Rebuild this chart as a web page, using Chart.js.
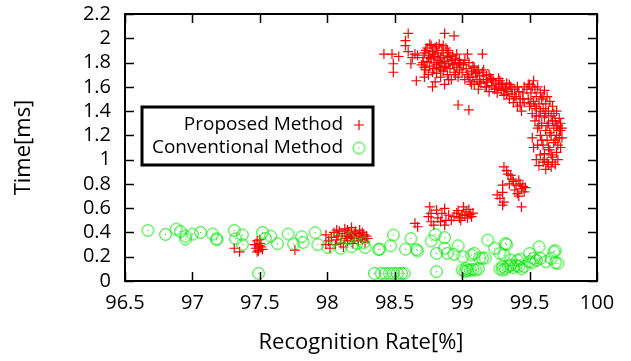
<!DOCTYPE html>
<html><head><meta charset="utf-8">
<script src="https://cdn.jsdelivr.net/npm/chart.js@4"></script>
<style>html,body{margin:0;padding:0;background:#fff}#wrap{width:631px;height:361px;position:relative}</style>
</head><body><div id="wrap"><canvas id="c" width="631" height="361"></canvas></div>
<script>
const xTicks=[96.5,97,97.5,98,98.5,99,99.5,100];
const xTickLabels=['96.5','97','97.5','98','98.5','99','99.5','100'];
const yTicks=[0,0.2,0.4,0.6,0.8,1,1.2,1.4,1.6,1.8,2,2.2];
const yTickLabels=['0','0.2','0.4','0.6','0.8','1','1.2','1.4','1.6','1.8','2','2.2'];
const seriesNames=['Proposed Method','Conventional Method'];
const xTitle='Recognition Rate[%]';
const yTitle='Time[ms]';

const proposed=[
[97.31,0.27],[97.35,0.24],[97.46,0.30],[97.47,0.27],[97.48,0.33],[97.49,0.25],[97.50,0.29],[97.50,0.31],[97.51,0.28],[97.52,0.26],[97.48,0.24],[97.50,0.34],[97.76,0.255],
[97.99,0.38],[97.99,0.30],[98.01,0.33],[98.03,0.36],[98.05,0.40],[98.07,0.42],[98.07,0.34],[98.08,0.37],[98.10,0.31],[98.11,0.39],[98.13,0.43],[98.13,0.35],[98.14,0.37],[98.15,0.33],[98.16,0.40],[98.17,0.36],[98.18,0.38],[98.19,0.31],[98.20,0.35],[98.21,0.41],[98.22,0.37],[98.23,0.33],[98.24,0.39],[98.25,0.36],[98.26,0.34],[98.27,0.38],[98.28,0.32],[98.12,0.28],[98.06,0.30],[98.18,0.44],[98.02,0.27],
[98.09,0.41],[98.15,0.42],[98.20,0.39],[98.24,0.42],[98.26,0.40],[98.29,0.37],[98.30,0.35],
[98.65,0.475],[98.67,0.447],[98.75,0.53],[98.76,0.61],[98.77,0.557],[98.77,0.488],[98.79,0.46],[98.81,0.584],[98.82,0.52],[98.85,0.557],[98.87,0.598],[98.87,0.46],[98.88,0.50],[98.90,0.543],[98.92,0.50],[98.94,0.53],[98.96,0.56],[98.97,0.58],[98.98,0.52],[99.00,0.55],[99.01,0.61],[99.02,0.54],[99.03,0.57],[99.04,0.52],[99.05,0.59],[99.06,0.55],[99.07,0.53],[99.08,0.56],[98.99,0.50],[98.84,0.49],
[99.26,0.71],[99.28,0.68],[99.30,0.79],[99.30,0.73],[99.31,0.65],[99.30,0.625],[99.33,0.91],[99.34,0.88],[99.36,0.87],[99.37,0.84],[99.38,0.82],[99.40,0.79],[99.41,0.72],[99.42,0.83],[99.43,0.80],[99.44,0.76],[99.44,0.61],[99.45,0.78],[99.46,0.735],[99.47,0.77],[99.39,0.75],[99.42,0.70],[99.35,0.80],
[98.42,1.87],[98.48,1.87],[98.53,1.85],[98.49,1.79],[98.49,1.72],[98.58,1.98],[98.60,2.04],[98.58,1.94],[98.60,1.89],[98.62,1.79],[98.66,1.65],[98.65,1.87],[98.67,1.86],[98.87,2.04],[98.94,2.02],[98.63,1.84],
[98.70,1.78],[98.71,1.84],[98.72,1.88],[98.73,1.74],[98.74,1.92],[98.74,1.81],[98.75,1.70],[98.76,1.86],[98.76,1.77],[98.77,1.94],[98.77,1.83],[98.78,1.60],[98.78,1.89],[98.79,1.75],[98.79,1.80],[98.80,1.92],[98.80,1.85],[98.81,1.71],[98.81,1.78],[98.82,1.88],[98.82,1.82],[98.83,1.95],[98.83,1.76],[98.84,1.84],[98.84,1.68],[98.85,1.90],[98.85,1.79],[98.86,1.73],[98.86,1.86],[98.87,1.81],[98.88,1.77],[98.88,1.92],[98.89,1.84],[98.89,1.70],[98.90,1.79],[98.90,1.88],[98.91,1.75],[98.92,1.82],[98.92,1.66],[98.93,1.86],[98.94,1.78],[98.94,1.72],[98.95,1.83],[98.96,1.76],[98.97,1.80],[98.97,1.68],[98.98,1.74],[98.99,1.79],[98.97,1.45],[98.80,1.64],[98.87,1.62],
[98.71,1.80],[98.72,1.76],[98.73,1.90],[98.75,1.84],[98.76,1.95],[98.78,1.72],[98.79,1.87],[98.81,1.93],[98.83,1.80],[98.84,1.74],[98.86,1.94],[98.87,1.76],[98.89,1.90],[98.91,1.85],[98.93,1.79],[98.95,1.70],[98.96,1.87],[98.98,1.82],[98.72,1.68],[98.90,1.66],
[99.00,1.72],[99.01,1.78],[99.02,1.66],[99.03,1.75],[99.04,1.87],[99.04,1.70],[99.05,1.41],[99.05,1.80],[99.06,1.64],[99.07,1.73],[99.08,1.68],[99.08,1.77],[99.09,1.62],[99.10,1.71],[99.11,1.66],[99.12,1.74],[99.12,1.58],[99.13,1.69],[99.14,1.63],[99.15,1.87],[99.15,1.72],[99.16,1.66],[99.17,1.60],[99.18,1.69],[99.19,1.64],[99.20,1.56],[99.21,1.67],[99.22,1.61],[99.23,1.65],[99.24,1.58],[99.25,1.63],[99.26,1.55],[99.27,1.60],[99.28,1.65],[99.29,1.57],[99.30,1.62],[99.31,1.53],[99.32,1.59],[99.33,1.63],[99.34,1.56],[99.35,1.50],[99.36,1.60],[99.37,1.54],[99.38,1.47],[99.39,1.58],[99.40,1.52],[99.41,1.44],[99.42,1.56],[99.43,1.50],[99.44,1.40],[99.45,1.55],[99.46,1.47],
[99.02,1.82],[99.05,1.68],[99.07,1.62],[99.09,1.76],[99.11,1.72],[99.13,1.64],[99.16,1.74],[99.18,1.60],[99.20,1.70],[99.22,1.66],[99.25,1.59],[99.27,1.67],[99.29,1.62],[99.31,1.58],[99.33,1.54],[99.35,1.62],[99.37,1.58],[99.39,1.52],[99.41,1.60],[99.43,1.45],[99.45,1.50],[99.46,1.60],
[99.48,1.58],[99.49,1.50],[99.50,1.62],[99.50,1.44],[99.51,1.55],[99.52,1.38],[99.53,1.65],[99.53,1.48],[99.54,1.58],[99.54,1.32],[99.55,1.52],[99.55,1.42],[99.56,1.60],[99.56,1.26],[99.57,1.46],[99.57,1.36],[99.58,1.55],[99.58,1.20],[99.59,1.50],[99.59,1.30],[99.60,1.42],[99.60,1.12],[99.61,1.57],[99.61,1.35],[99.61,1.05],[99.62,1.46],[99.62,1.24],[99.63,1.52],[99.63,1.16],[99.63,0.98],[99.64,1.40],[99.64,1.30],[99.65,1.08],[99.65,1.48],[99.66,1.20],[99.66,1.36],[99.67,1.02],[99.67,1.44],[99.68,1.26],[99.68,1.14],[99.69,1.32],[99.69,0.96],[99.70,1.40],[99.70,1.20],[99.70,1.06],[99.71,1.28],[99.71,1.12],[99.72,1.34],[99.72,1.18],[99.73,1.24],[99.73,1.10],[99.62,0.92],[99.66,0.94],[99.55,1.00],[99.58,1.04],[99.53,1.10],[99.52,1.18],[99.56,1.12],[99.60,0.98],[99.57,0.95],[99.31,0.94],
[99.49,1.62],[99.51,1.46],[99.52,1.60],[99.54,1.44],[99.55,1.36],[99.57,1.28],[99.58,1.40],[99.59,1.16],[99.60,1.52],[99.62,1.38],[99.63,1.28],[99.64,1.10],[99.65,1.22],[99.66,1.04],[99.67,1.32],[99.68,1.38],[99.69,1.16],[99.70,1.28],[99.71,1.00],[99.72,1.24],[99.73,1.30],[99.74,1.18],[99.74,1.26],[99.64,0.96],[99.61,1.00],[99.67,0.98]
];

const conventional=[
[96.67,0.417],[96.80,0.384],[96.88,0.428],[96.91,0.409],[96.95,0.37],[96.95,0.346],[97.00,0.387],[97.06,0.40],[97.15,0.387],[97.18,0.348],[97.18,0.34],[97.31,0.417],[97.32,0.348],[97.37,0.38],[97.37,0.30],[97.49,0.063],[97.52,0.40],[97.54,0.35],[97.58,0.37],[97.63,0.307],[97.71,0.387],[97.75,0.305],[97.81,0.365],[97.82,0.318],[97.91,0.398],[97.93,0.30],
[98.005,0.277],[98.06,0.343],[98.10,0.27],[98.16,0.35],[98.18,0.282],[98.22,0.31],[98.27,0.315],[98.28,0.277],[98.35,0.063],[98.38,0.26],[98.39,0.263],[98.47,0.29],[98.49,0.379],[98.40,0.063],[98.43,0.063],[98.46,0.063],[98.49,0.063],[98.52,0.063],[98.55,0.063],[98.57,0.063],[98.58,0.263],[98.62,0.35],[98.67,0.247],[98.66,0.26],[98.77,0.33],[98.80,0.384],[98.81,0.228],[98.81,0.077],[98.87,0.357],[98.87,0.27],[98.89,0.228],[98.94,0.22],[98.97,0.29],
[99.005,0.20],[99.03,0.104],[99.00,0.09],[99.02,0.08],[99.04,0.085],[99.06,0.09],[99.08,0.095],[99.10,0.09],[99.12,0.10],[99.07,0.214],[99.09,0.228],[99.13,0.19],[99.15,0.187],[99.17,0.19],[99.19,0.337],[99.24,0.27],[99.28,0.228],[99.31,0.214],[99.32,0.31],[99.33,0.30],[99.30,0.118],[99.28,0.10],[99.30,0.09],[99.32,0.10],[99.34,0.12],[99.36,0.13],[99.38,0.11],[99.40,0.13],[99.42,0.12],[99.44,0.10],[99.46,0.12],[99.36,0.173],[99.41,0.17],[99.43,0.18],
[99.50,0.228],[99.53,0.187],[99.57,0.282],[99.58,0.187],[99.62,0.16],[99.66,0.187],[99.68,0.241],[99.69,0.25],[99.71,0.146],[99.69,0.15],[99.50,0.16],[99.52,0.15],[99.55,0.17]
];

const RED='#ff0000', GREEN='#00e600';
const FONT='"Open Sans", sans-serif';

function circleImg(){
  const c=document.createElement('canvas'); c.width=15; c.height=15;
  const g=c.getContext('2d');
  g.strokeStyle=GREEN; g.lineWidth=1;
  g.beginPath(); g.arc(7.5,7.5,5.8,0,Math.PI*2); g.stroke();
  g.fillStyle=GREEN; g.fillRect(7,7,1,1);
  return c;
}
const circ=circleImg();

const frame={
  id:'frame',
  afterDatasetsDraw(chart){
    const {ctx,chartArea:a,scales:{x,y}}=chart;
    ctx.save();
    ctx.strokeStyle='#000'; ctx.lineWidth=1.5;
    const tl=9;
    ctx.beginPath();
    xTicks.forEach(v=>{const px=Math.round(x.getPixelForValue(v))+0.5;
      ctx.moveTo(px,a.bottom); ctx.lineTo(px,a.bottom-tl);
      ctx.moveTo(px,a.top); ctx.lineTo(px,a.top+tl);});
    yTicks.forEach(v=>{const py=Math.round(y.getPixelForValue(v))+0.5;
      ctx.moveTo(a.left,py); ctx.lineTo(a.left+tl,py);
      ctx.moveTo(a.right,py); ctx.lineTo(a.right-tl,py);});
    ctx.stroke();
    ctx.lineWidth=2;
    ctx.strokeRect(a.left,a.top,a.right-a.left,a.bottom-a.top);
    // key
    const bx=142,by=107,bw=231,bh=58;
    ctx.fillStyle='#fff'; ctx.fillRect(bx,by,bw,bh);
    ctx.lineWidth=3; ctx.strokeRect(bx,by,bw,bh);
    ctx.fillStyle='#000'; ctx.font='19px '+FONT; ctx.textAlign='right'; ctx.textBaseline='middle';
    ctx.fillText(seriesNames[0],343,125);
    ctx.fillText(seriesNames[1],343,148);
    ctx.strokeStyle=RED; ctx.lineWidth=1.2;
    ctx.beginPath(); ctx.moveTo(354,125); ctx.lineTo(364,125); ctx.moveTo(359,120); ctx.lineTo(359,130); ctx.stroke();
    ctx.drawImage(circ,359-7.5,148-7.5);
    ctx.restore();
  }
};

new Chart(document.getElementById('c'),{
  type:'scatter',
  data:{datasets:[
    {label:seriesNames[0],data:proposed.map(p=>({x:p[0],y:p[1]})),pointStyle:'cross',radius:5,borderColor:RED,borderWidth:1.2,order:2},
    {label:seriesNames[1],data:conventional.map(p=>({x:p[0],y:p[1]})),pointStyle:circ,radius:6,borderColor:GREEN,order:1}
  ]},
  options:{
    responsive:false,animation:false,devicePixelRatio:1,events:[],
    layout:{padding:{top:14,right:34,left:0,bottom:0}},
    plugins:{legend:{display:false},tooltip:{enabled:false}},
    scales:{
      x:{type:'linear',min:96.5,max:100,
        afterBuildTicks(s){s.ticks=xTicks.map(v=>({value:v}));},
        afterFit(s){s.height=80;s.paddingLeft=0;s.paddingRight=0;},
        grid:{display:false,drawTicks:false},border:{display:false},
        ticks:{callback:(v,i)=>xTickLabels[i],font:{family:FONT,size:20},color:'#000',padding:10,maxRotation:0,autoSkip:false},
        title:{display:true,text:xTitle,font:{family:FONT,size:22},color:'#000',padding:{top:0,bottom:5}}
      },
      y:{type:'linear',min:0,max:2.2,
        afterBuildTicks(s){s.ticks=yTicks.map(v=>({value:v}));},
        afterFit(s){s.width=125;s.paddingTop=0;s.paddingBottom=0;},
        grid:{display:false,drawTicks:false},border:{display:false},
        ticks:{callback:(v,i)=>yTickLabels[i],font:{family:FONT,size:20},color:'#000',padding:14,autoSkip:false},
        title:{display:true,text:yTitle,font:{family:FONT,size:22},color:'#000',padding:{top:11,bottom:0}}
      }
    }
  },
  plugins:[frame]
});
</script></body></html>
